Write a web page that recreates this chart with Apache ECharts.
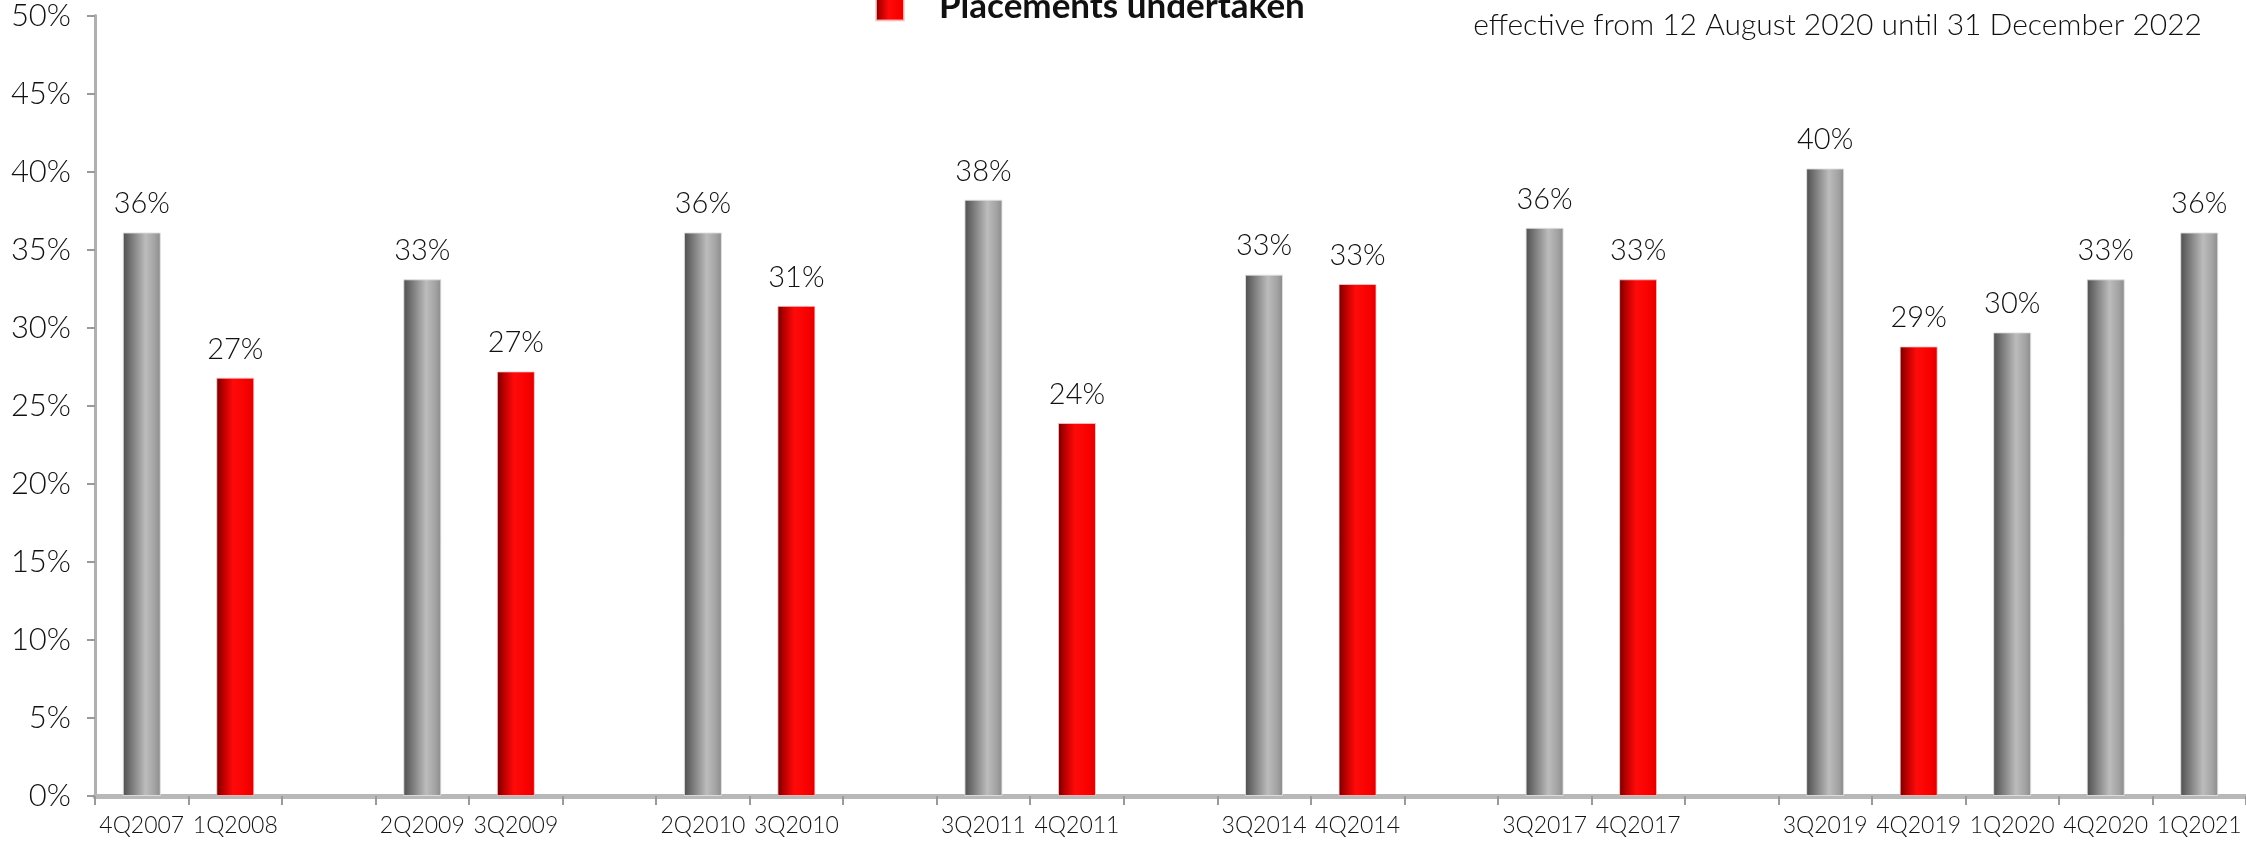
<!DOCTYPE html>
<html>
<head>
<meta charset="utf-8">
<style>
  html, body { margin: 0; padding: 0; background: #ffffff; }
  #chart { width: 2246px; height: 845px; }
</style>
<script src="https://cdn.jsdelivr.net/npm/echarts@6/dist/echarts.min.js"></script>
</head>
<body>
<div id="chart"></div>
<script>
// Quarters on the category axis; empty strings are spacer slots between groups.
const quarters = ['4Q2007', '1Q2008', '', '2Q2009', '3Q2009', '', '2Q2010', '3Q2010', '',
  '3Q2011', '4Q2011', '', '3Q2014', '4Q2014', '', '3Q2017', '4Q2017', '',
  '3Q2019', '4Q2019', '1Q2020', '4Q2020', '1Q2021'];

// Share (%) for quarters without a placement (grey bars)
const otherQuarters = [36.1, null, null, 33.1, null, null, 36.1, null, null,
  38.2, null, null, 33.4, null, null, 36.4, null, null,
  40.2, null, 29.7, 33.1, 36.1];

// Share (%) for quarters in which placements were undertaken (red bars)
const placementQuarters = [null, 26.8, null, null, 27.2, null, null, 31.4, null,
  null, 23.9, null, null, 32.8, null, null, 33.1, null,
  null, 28.8, null, null, null];

const yTicks = { min: 0, max: 50, step: 5 };

const noteText = 'effective from 12 August 2020 until 31 December 2022';
const placementsName = 'Placements undertaken';
const otherName = 'No placements';

const FONT = 'Lato, "Open Sans", sans-serif';

const greyFill = new echarts.graphic.LinearGradient(0, 0, 1, 0, [
  { offset: 0, color: '#4e4e4e' },
  { offset: 0.25, color: '#7c7c7c' },
  { offset: 0.6, color: '#bcbcbc' },
  { offset: 0.85, color: '#a2a2a2' },
  { offset: 1, color: '#8a8a8a' }
]);
const redFill = new echarts.graphic.LinearGradient(0, 0, 1, 0, [
  { offset: 0, color: '#700000' },
  { offset: 0.2, color: '#c00000' },
  { offset: 0.45, color: '#ff0a0a' },
  { offset: 0.8, color: '#f80000' },
  { offset: 1, color: '#dc0000' }
]);

const pctLabel = {
  show: true,
  position: 'top',
  distance: 14,
  fontFamily: FONT,
  fontWeight: 300,
  fontSize: 29,
  color: '#111111',
  formatter: p => Math.round(p.value) + '%'
};

const chart = echarts.init(document.getElementById('chart'), null, { renderer: 'canvas' });

chart.setOption({
  animation: false,
  backgroundColor: '#ffffff',
  title: {
    text: noteText,
    right: 39,
    top: 5,
    textStyle: { fontFamily: FONT, fontWeight: 300, fontSize: 30, color: '#111111' }
  },
  legend: {
    data: [placementsName],
    left: 870,
    top: -16,
    itemWidth: 28,
    itemHeight: 28,
    itemGap: 10,
    icon: 'rect',
    textStyle: { fontFamily: FONT, fontWeight: 'bold', fontSize: 35, color: '#111111', padding: [0, 0, 0, 30] }
  },
  grid: { left: 95, right: 0, top: 15, bottom: 49, containLabel: false },
  xAxis: {
    type: 'category',
    data: quarters,
    boundaryGap: true,
    axisLine: { show: true, lineStyle: { color: '#b8b8b8', width: 5 } },
    axisTick: { show: true, interval: 0, alignWithLabel: false, length: 9, lineStyle: { color: '#9a9a9a', width: 2 } },
    axisLabel: { interval: 0, margin: 18, fontFamily: FONT, fontWeight: 300, fontSize: 23, color: '#111111' },
    splitLine: { show: false }
  },
  yAxis: {
    type: 'value',
    min: yTicks.min,
    max: yTicks.max,
    interval: yTicks.step,
    axisLine: { show: true, lineStyle: { color: '#b0b0b0', width: 3 } },
    axisTick: { show: true, length: 8, lineStyle: { color: '#9a9a9a', width: 2 } },
    axisLabel: { margin: 24, fontFamily: FONT, fontWeight: 300, fontSize: 31, color: '#111111', formatter: '{value}%' },
    splitLine: { show: false }
  },
  series: [
    {
      name: otherName,
      type: 'bar',
      data: otherQuarters,
      barWidth: 38,
      barGap: '-100%',
      itemStyle: { color: greyFill, borderColor: 'rgba(225,225,225,0.9)', borderWidth: 1 },
      label: pctLabel
    },
    {
      name: placementsName,
      type: 'bar',
      data: placementQuarters,
      barWidth: 38,
      barGap: '-100%',
      itemStyle: { color: redFill, borderColor: 'rgba(255,200,200,0.8)', borderWidth: 1 },
      label: pctLabel
    }
  ]
});
</script>
</body>
</html>
